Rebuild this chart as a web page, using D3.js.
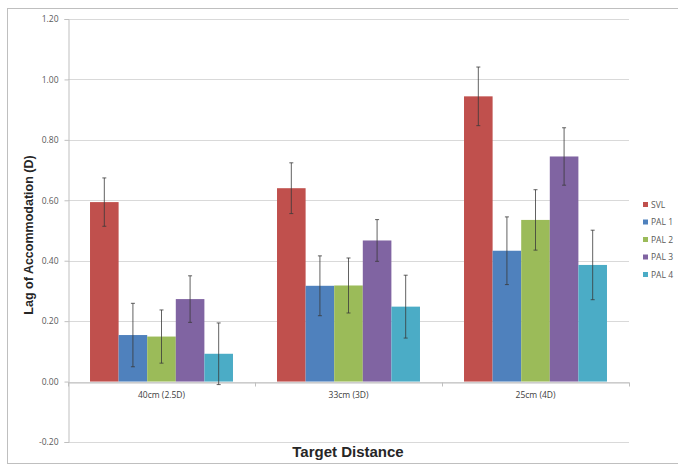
<!DOCTYPE html>
<html>
<head>
<meta charset="utf-8">
<script src="https://cdn.jsdelivr.net/npm/d3@7"></script>
<style>
  body { margin: 0; background: #fff; }
  svg { display: block; }
  text { font-family: "Liberation Sans", Arial, sans-serif; }
</style>
</head>
<body>
<svg id="chart" width="678" height="470"></svg>
<script>
const categories = ["40cm (2.5D)", "33cm (3D)", "25cm (4D)"];
const seriesNames = ["SVL", "PAL 1", "PAL 2", "PAL 3", "PAL 4"];
const svl  = [0.594, 0.640, 0.944];
const pal1 = [0.154, 0.317, 0.433];
const pal2 = [0.149, 0.318, 0.535];
const pal3 = [0.273, 0.467, 0.745];
const pal4 = [0.092, 0.248, 0.386];
const errSvl  = [0.080, 0.084, 0.097];
const errPal1 = [0.105, 0.099, 0.112];
const errPal2 = [0.088, 0.091, 0.100];
const errPal3 = [0.077, 0.069, 0.095];
const errPal4 = [0.102, 0.104, 0.115];
const yTicks = [-0.2, 0, 0.2, 0.4, 0.6, 0.8, 1.0, 1.2];
const colors = ["#C0504D", "#4F81BD", "#9BBB59", "#8064A2", "#4BACC6"];

const values = [svl, pal1, pal2, pal3, pal4];
const errors = [errSvl, errPal1, errPal2, errPal3, errPal4];

(function () {
const svg = d3.select("#chart");
const mLeft = 68, mRight = 629, mTop = 19, mBottom = 442;

// outer chart frame
svg.append("rect").attr("x", 7.5).attr("y", 8.5).attr("width", 700).attr("height", 455)
  .attr("fill", "none").attr("stroke", "#bfbfbf").attr("stroke-width", 1);

const y = d3.scaleLinear().domain([-0.2, 1.2]).range([mBottom, mTop]);
const x0 = d3.scaleBand().domain(categories).range([mLeft, mRight]).paddingInner(0).paddingOuter(0);
const x1 = d3.scaleBand().domain(seriesNames).range([0, x0.bandwidth()]).paddingInner(0).paddingOuter(0.77);

// gridlines
svg.append("g").selectAll("line").data(yTicks).join("line")
  .attr("x1", mLeft).attr("x2", mRight)
  .attr("y1", d => Math.round(y(d)) + 0.5).attr("y2", d => Math.round(y(d)) + 0.5)
  .attr("stroke", "#d9d9d9").attr("stroke-width", 1);

// y axis
const fmt = d => d3.format(".2f")(d).replace("\u2212", "-");
const yAxis = d3.axisLeft(y).tickValues(yTicks).tickFormat(fmt).tickSize(4).tickPadding(6);
const gy = svg.append("g").attr("transform", `translate(${mLeft + 0.5},0)`).call(yAxis);
gy.select(".domain").attr("stroke", "#bfbfbf");
gy.selectAll(".tick line").attr("stroke", "#bfbfbf");
gy.selectAll(".tick text").attr("fill", "#595959").style("font-size", "8.5px")
  .style("font-family", "'Open Sans', 'Liberation Sans', sans-serif");

// bars
const groups = svg.append("g").selectAll("g").data(seriesNames).join("g")
  .attr("fill", (d, i) => colors[i]);
groups.selectAll("rect").data((s, i) => categories.map((c, j) => ({ c, s, v: values[i][j], e: errors[i][j] })))
  .join("rect")
  .attr("x", d => x0(d.c) + x1(d.s))
  .attr("width", x1.bandwidth())
  .attr("y", d => y(Math.max(0, d.v)))
  .attr("height", d => Math.abs(y(d.v) - y(0)));

// x axis at zero
const xAxis = d3.axisBottom(x0).tickSize(0).tickPadding(9);
const gx = svg.append("g").attr("transform", `translate(0,${Math.round(y(0)) + 0.5})`).call(xAxis);
gx.select(".domain").attr("stroke", "#bfbfbf");
gx.selectAll(".tick text").attr("fill", "#404040").style("font-size", "8.5px")
  .style("font-family", "'Open Sans', 'Liberation Sans', sans-serif");
// category boundary ticks
svg.append("g").selectAll("line").data([...categories.map(c => x0(c)), mRight]).join("line")
  .attr("x1", d => Math.round(d) + 0.5).attr("x2", d => Math.round(d) + 0.5)
  .attr("y1", Math.round(y(0)) + 0.5).attr("y2", Math.round(y(0)) + 4.5)
  .attr("stroke", "#bfbfbf");

// error bars
const eg = svg.append("g").attr("stroke", "#3a3a3a").attr("stroke-width", 0.8);
seriesNames.forEach((s, i) => {
  categories.forEach((c, j) => {
    const cx = x0(c) + x1(s) + x1.bandwidth() / 2;
    const v = values[i][j], e = errors[i][j];
    eg.append("line").attr("x1", cx).attr("x2", cx).attr("y1", y(v + e)).attr("y2", y(v - e));
    eg.append("line").attr("x1", cx - 2).attr("x2", cx + 2).attr("y1", y(v + e)).attr("y2", y(v + e));
    eg.append("line").attr("x1", cx - 2).attr("x2", cx + 2).attr("y1", y(v - e)).attr("y2", y(v - e));
  });
});

// axis titles
svg.append("text").attr("transform", `translate(33,235) rotate(-90)`)
  .attr("text-anchor", "middle").attr("fill", "#262626")
  .style("font-size", "12.5px").style("font-weight", "bold").text("Lag of Accommodation (D)");
svg.append("text").attr("x", 348).attr("y", 457).attr("text-anchor", "middle").attr("fill", "#262626")
  .style("font-size", "15px").style("font-weight", "bold").text("Target Distance");

// legend
const lg = svg.append("g").attr("transform", "translate(643,205)");
const items = lg.selectAll("g").data(seriesNames).join("g")
  .attr("transform", (d, i) => `translate(0,${i * 17.5})`);
items.append("rect").attr("x", 0).attr("y", -3).attr("width", 5).attr("height", 5)
  .attr("fill", (d, i) => colors[i]);
items.append("text").attr("x", 8).attr("y", 0).attr("dy", "0.35em").attr("fill", "#595959")
  .style("font-size", "8.5px").style("font-family", "'Open Sans', 'Liberation Sans', sans-serif")
  .text(d => d);
})();
</script>
</body>
</html>
